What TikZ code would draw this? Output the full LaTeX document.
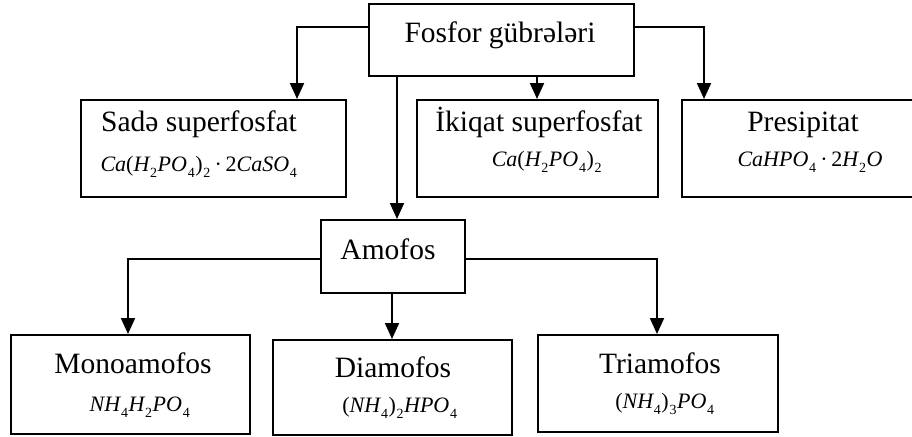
\documentclass[tikz,border=0pt]{standalone}
\usepackage{fontspec}
\setmainfont{Liberation Serif}
\usetikzlibrary{arrows.meta}
\newcommand{\sbx}[1]{\kern0.8pt\raisebox{-0.3em}{\fontsize{14}{14}\selectfont\upshape #1}\kern0.5pt}
\newcommand{\up}[1]{{\upshape #1}}
\newcommand{\ttl}{\fontsize{29.5}{34}\selectfont}
\newcommand{\fml}{\fontsize{22}{26}\selectfont\itshape}
\begin{document}
\begin{tikzpicture}[x=1pt,y=-1pt,
 box/.style={draw, line width=2pt, inner sep=0pt, anchor=north west},
 lbl/.style={anchor=base, inner sep=0pt, font=\ttl},
 frm/.style={anchor=base, inner sep=0pt, font=\fml},
 arr/.style={line width=2pt, -{Triangle[length=16pt,width=14pt]}}]
\useasboundingbox (0,0) rectangle (912,436);
% boxes
\node[box, minimum width=265pt, minimum height=72pt] (top) at (368,3) {};
\node[box, minimum width=265pt, minimum height=97pt] (sade) at (80,99) {};
\node[box, minimum width=241pt, minimum height=97pt] (iki) at (416,99) {};
\node[box, minimum width=235pt, minimum height=97pt] (pre) at (681,99) {};
\node[box, minimum width=144pt, minimum height=73pt] (amo) at (320,219) {};
\node[box, minimum width=239pt, minimum height=99pt] (mono) at (10,334) {};
\node[box, minimum width=239pt, minimum height=95pt] (dia) at (272,339) {};
\node[box, minimum width=240pt, minimum height=97pt] (tri) at (537,334) {};
% texts
\node[lbl] (topt) at (500,43) {Fosfor gübrələri};
\node[lbl] (sadet) at (199,131) {Sadə superfosfat};
\node[frm] (sadef) at (199,171) {Ca\up{(}H\sbx{2}PO\sbx{4}\up{)}\sbx{2}\up{\,·\,2}CaSO\sbx{4}};
\node[lbl] (ikit) at (539,131) {İkiqat superfosfat};
\node[frm] (ikif) at (547,166) {Ca\up{(}H\sbx{2}PO\sbx{4}\up{)}\sbx{2}};
\node[lbl] (pret) at (803,131) {Presipitat};
\node[frm] (pref) at (810,166) {CaHPO\sbx{4}\up{\,·\,2}H\sbx{2}O};
\node[lbl] (amot) at (388,259) {Amofos};
\node[lbl] (monot) at (133,373) {Monoamofos};
\node[frm] (monof) at (140,411) {NH\sbx{4}H\sbx{2}PO\sbx{4}};
\node[lbl] (diat) at (393,377) {Diamofos};
\node[frm] (diaf) at (400,412) {\up{(}NH\sbx{4}\up{)}\sbx{2}HPO\sbx{4}};
\node[lbl] (trit) at (660,373) {Triamofos};
\node[frm] (trif) at (665,408) {\up{(}NH\sbx{4}\up{)}\sbx{3}PO\sbx{4}};
% connectors
\coordinate (c1) at (297,27);
\coordinate (c2) at (397,0);
\coordinate (c3) at (537,0);
\coordinate (c4) at (704,27);
\coordinate (c5) at (128,259);
\coordinate (c6) at (392,0);
\coordinate (c7) at (657,259);
\draw[arr] (top.west |- c1) -| (c1 |- sade.north);
\draw[arr] (c2 |- top.south) -- (c2 |- amo.north);
\draw[arr] (c3 |- top.south) -- (c3 |- iki.north);
\draw[arr] (top.east |- c4) -| (c4 |- pre.north);
\draw[arr] (amo.west |- c5) -| (c5 |- mono.north);
\draw[arr] (c6 |- amo.south) -- (c6 |- dia.north);
\draw[arr] (amo.east |- c7) -| (c7 |- tri.north);
\end{tikzpicture}
\end{document}
